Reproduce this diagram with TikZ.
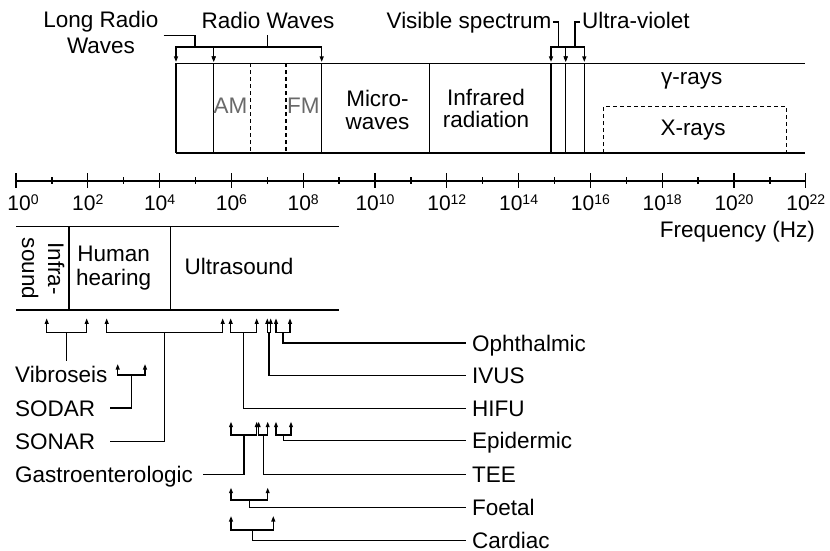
\documentclass[tikz,border=0pt]{standalone}
\usepackage{fontspec}
\setmainfont{Liberation Sans}
\usetikzlibrary{arrows.meta}
\definecolor{amgray}{RGB}{105,105,105}
\newcommand\ubrk[5]{%
  \draw[darr] (#2,#4) -- (#2,#5) -- (#3,#5) -- (#3,#4);
  \coordinate (#1) at ({(#2+#3)/2},#5);}
\tikzset{
  ln/.style={line width=1.3pt},
  darr/.style={line width=1.3pt,{Triangle[length=5.5pt,width=3.8pt]}-{Triangle[length=5.5pt,width=3.8pt]}},
  dsh/.style={line width=1.2pt,dash pattern=on 4pt off 3pt},
  lbl/.style={inner sep=0pt,font=\fontsize{22.5}{26}\selectfont,text height=16.1pt,text depth=0pt},
  mlbl/.style={inner sep=0pt,align=center},
  tickmark/.style={line width=1.3pt},
}
\begin{document}
\begin{tikzpicture}[x=1pt,y=-1pt]
\useasboundingbox (0,0) rectangle (830,551);
% ---------------- EM spectrum box
\draw[ln] (176,63.3) -- (805,63.3);
\draw[ln] (176,153) -- (805,153);
\foreach \xx in {176,213.7,321.7,429.3,551,565.7,584.3} \draw[ln] (\xx,63.3) -- (\xx,153);
\foreach \xx in {250.7,286} \draw[dsh] (\xx,63.3) -- (\xx,153);
\draw[dsh] (603.3,153) -- (603.3,106.7) -- (786.7,106.7) -- (786.7,153);
\node[lbl,text=amgray] (am) at (230.5,105) {AM};
\node[lbl,text=amgray] (fm) at (303.3,105) {FM};
\node[mlbl,font=\fontsize{22.5}{23}\selectfont] (mw) at (377.5,109.5) {Micro-\\waves};
\node[mlbl,font=\fontsize{22.5}{22}\selectfont] (ir) at (486,108) {Infrared\\radiation};
\node[lbl] (gam) at (691.7,76) {γ-rays};
\node[lbl] (xr) at (693,127) {X-rays};
% ---------------- top labels and brackets
\node[mlbl,font=\fontsize{22.5}{26}\selectfont] (lrw) at (101,32.8) {Long Radio\\Waves};
\node[lbl] (rw) at (268,20) {Radio Waves};
\node[lbl,anchor=east] (vis) at (551.5,20) {Visible spectrum};
\node[lbl,anchor=west] (uv) at (582,20) {Ultra-violet};
\ubrk{bLR}{176}{213.7}{62}{47}
\ubrk{bRW}{213.7}{321.7}{62}{47}
\ubrk{bVS}{551}{565.7}{62}{47}
\ubrk{bUV}{565.7}{584.3}{62}{47}
\draw[ln] ([xshift=5pt,yshift=-2.7pt]lrw.east) -| (bLR);
\draw[ln] (bRW) -- ++(0,-12);
\draw[ln] ([xshift=1.5pt,yshift=-2pt]vis.east) -| (bVS);
\draw[ln] ([xshift=-2pt,yshift=-2pt]uv.west) -| (bUV);
% ---------------- frequency axis
\draw[line width=2pt] (16,181) -- (805.8,181);
\foreach \k in {0,...,22}{
  \pgfmathsetmacro\xx{16+35.9*\k}
  \pgfmathtruncatemacro\odd{mod(\k,2)}
  \pgfmathsetmacro\lx{\k==0 ? 23 : \xx}
  \ifnum\odd=0
    \draw[tickmark] (\xx,173.3) -- (\xx,187.7);
    \node[anchor=base,inner sep=0pt,font=\fontsize{21}{21}\selectfont] (lab\k) at (\lx,210) {10\raisebox{5.5pt}{\fontsize{14}{14}\selectfont\k}};
  \else
    \draw[tickmark] (\xx,177) -- (\xx,184);
  \fi
}
\node[lbl,anchor=east] (freq) at (815,229) {Frequency (Hz)};
% ---------------- sound box
\draw[ln] (16,226.7) -- (339,226.7);
\draw[ln] (16,310) -- (339,310);
\draw[ln] (69,226.7) -- (69,310);
\draw[ln] (170.3,226.7) -- (170.3,310);
\node[mlbl,rotate=-90,font=\fontsize{22.5}{26}\selectfont] (infra) at (43.2,268.5) {Infra-\\sound};
\node[mlbl,font=\fontsize{22.5}{24.5}\selectfont] (hh) at (113.7,268.1) {Human\\hearing};
\node[lbl] (us) at (239,266) {Ultrasound};
% ---------------- application labels
\node[lbl,anchor=west] (vib) at (15,374.5) {Vibroseis};
\node[lbl,anchor=west] (sodar) at (15,408) {SODAR};
\node[lbl,anchor=west] (sonar) at (15,441.5) {SONAR};
\node[lbl,anchor=west] (gas) at (15,474.5) {Gastroenterologic};
\node[lbl,anchor=west] (oph) at (472,343) {Ophthalmic};
\node[lbl,anchor=west] (ivus) at (472,375.3) {IVUS};
\node[lbl,anchor=west] (hifu) at (472,408.4) {HIFU};
\node[lbl,anchor=west] (epi) at (472,440.8) {Epidermic};
\node[lbl,anchor=west] (tee) at (472,474.5) {TEE};
\node[lbl,anchor=west] (foe) at (472,507.3) {Foetal};
\node[lbl,anchor=west] (car) at (472,540.3) {Cardiac};
% ---------------- application brackets
\ubrk{bA}{46.7}{86.7}{318.3}{332.3}
\ubrk{bB}{106.7}{222.7}{318.3}{332.3}
\ubrk{bC}{230.7}{256.7}{318.3}{332.3}
\ubrk{bD}{267.3}{270.7}{318.3}{332.3}
\ubrk{bE}{276}{290}{318.3}{332.3}
\ubrk{bS}{117.7}{145}{364}{375}
\ubrk{bF}{231}{256.7}{421.7}{435}
\ubrk{bG}{258.7}{267.7}{421.7}{435}
\ubrk{bH}{276}{291}{421.7}{435}
\ubrk{bFo}{231}{267.7}{487.7}{500}
\ubrk{bCa}{231}{273.3}{516}{530}
\draw[ln] (bA) -- ++(0,28.7);
\draw[ln] (bB) |- ([xshift=15pt]sonar.east);
\draw[ln] (bS) |- ([xshift=15pt]sodar.east);
\draw[ln] (bC) |- ([xshift=-6pt]hifu.west);
\draw[ln] (bD) |- ([xshift=-6pt]ivus.west);
\draw[ln] (bE) |- ([xshift=-6pt]oph.west);
\draw[ln] (bF) |- ([xshift=10pt]gas.east);
\draw[ln] (bG) |- ([xshift=-6pt]tee.west);
\draw[ln] (bH) |- ([xshift=-6pt]epi.west);
\draw[ln] (bFo) |- ([xshift=-6pt]foe.west);
\draw[ln] (bCa) |- ([xshift=-6pt]car.west);
\end{tikzpicture}
\end{document}
